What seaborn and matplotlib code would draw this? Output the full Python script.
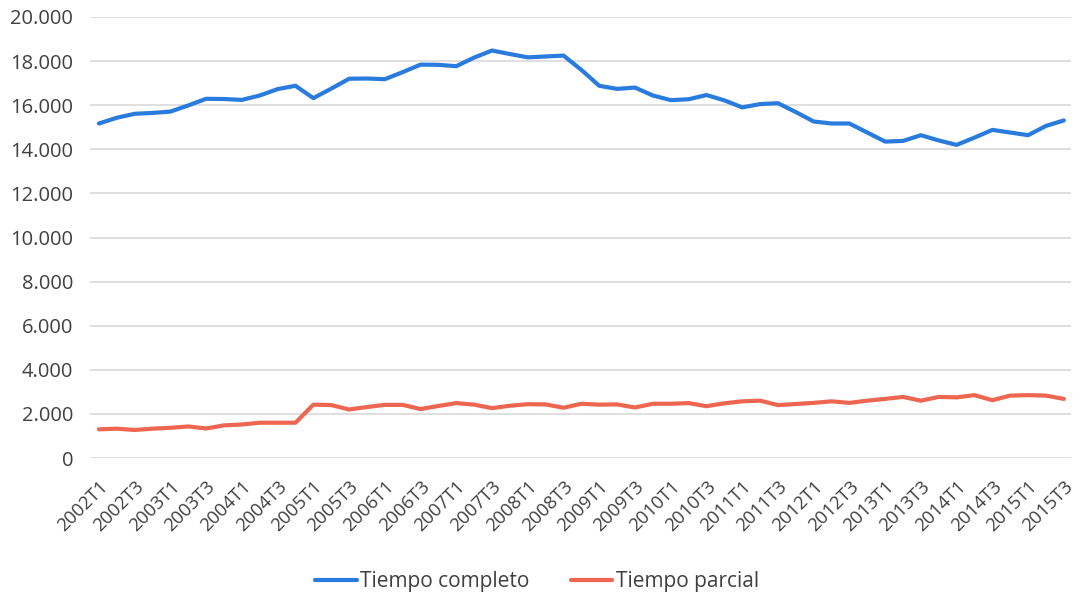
import pandas as pd
import numpy as np
import matplotlib.pyplot as plt
import seaborn as sns
from matplotlib.ticker import FuncFormatter
from matplotlib.lines import Line2D

# Datos (miles de personas, lectura aproximada del gráfico)
trimestres = [f"{a}T{t}" for a in range(2002, 2016) for t in range(1, 5)][:55]

tiempo_completo = [15170, 15430, 15610, 15650, 15710, 15990, 16290, 16280, 16240, 16440,
                   16730, 16880, 16320, 16750, 17200, 17210, 17180, 17500, 17840, 17830,
                   17770, 18160, 18480, 18320, 18170, 18210, 18250, 17600, 16880, 16740,
                   16800, 16440, 16230, 16270, 16460, 16220, 15900, 16050, 16090, 15690,
                   15260, 15170, 15170, 14760, 14350, 14380, 14640, 14400, 14200, 14530,
                   14880, 14760, 14640, 15060, 15310]

tiempo_parcial = [1300, 1330, 1270, 1330, 1370, 1430, 1340, 1480, 1520, 1600,
                  1600, 1600, 2420, 2400, 2200, 2310, 2410, 2410, 2220, 2360,
                  2490, 2420, 2260, 2370, 2440, 2430, 2280, 2460, 2420, 2430,
                  2290, 2460, 2460, 2490, 2350, 2480, 2570, 2600, 2400, 2450,
                  2500, 2570, 2500, 2600, 2680, 2770, 2600, 2770, 2750, 2850,
                  2620, 2830, 2850, 2830, 2680]

series = ['Tiempo completo', 'Tiempo parcial']
colores = ['#2A7BDE', '#EE6650']

df = pd.DataFrame({
    'idx': list(range(len(trimestres))) * 2,
    'valor': tiempo_completo + tiempo_parcial,
    'serie': [series[0]] * len(trimestres) + [series[1]] * len(trimestres),
})

sns.set_style('white')
plt.rcParams['font.family'] = ['Open Sans', 'DejaVu Sans']
texto = '#404040'

fig = plt.figure(figsize=(10.8, 5.97), dpi=100)
ax = fig.add_axes([90 / 1080, 1 - 458 / 597, (1071 - 90) / 1080, (458 - 17) / 597])

sns.lineplot(data=df, x='idx', y='valor', hue='serie', palette=colores,
             linewidth=3, ax=ax, legend=False)
for l in ax.lines:
    l.set_solid_capstyle('round')
    l.set_solid_joinstyle('round')

ax.set_xlim(-0.5, 54.4)
ax.set_ylim(0, 20000)
ax.set_yticks(np.arange(0, 20001, 2000))
ax.yaxis.set_major_formatter(FuncFormatter(lambda v, p: f"{int(v):,}".replace(',', '.')))
ax.set_xticks(range(0, len(trimestres), 2))
ax.set_xticklabels(trimestres[::2], rotation=45, ha='right', rotation_mode='anchor')

ax.grid(axis='y', color='#D9D9D9', linewidth=1.2)
ax.set_axisbelow(True)
for s in ax.spines.values():
    s.set_visible(False)
ax.tick_params(axis='y', length=0, labelsize=14.5, labelcolor=texto, pad=12)
ax.tick_params(axis='x', length=0, labelsize=13.3, labelcolor=texto, pad=14)
ax.set_xlabel('')
ax.set_ylabel('')

handles = [Line2D([0], [0], color=c, linewidth=3, solid_capstyle='round') for c in colores]
fig.legend(handles, series, loc='center', bbox_to_anchor=(0.497, 1 - 582 / 597), ncol=2,
           frameon=False, fontsize=15, handlelength=2.0, handletextpad=0.15,
           columnspacing=2.0, labelcolor=texto)

fig.savefig('out.png', dpi=100)
